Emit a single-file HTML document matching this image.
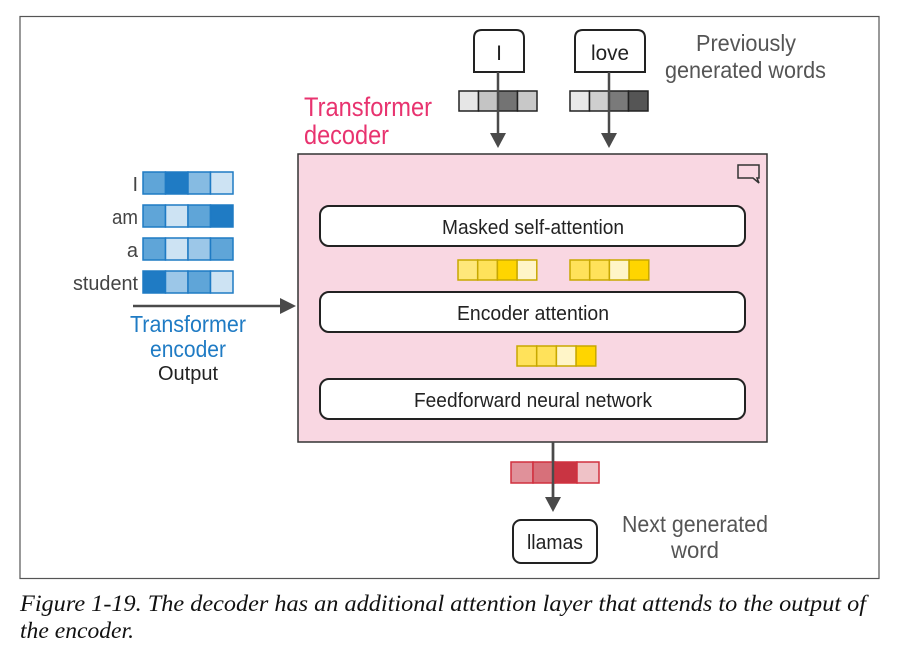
<!DOCTYPE html>
<html><head><meta charset="utf-8"><style>
html,body{margin:0;padding:0;background:#fff;}
svg{display:block;}
text{font-family:"Liberation Sans",sans-serif;}
.c{font-family:"Liberation Serif",serif;font-style:italic;font-size:23px;fill:#111;}
</style></head><body>
<svg width="904" height="662" viewBox="0 0 904 662" xmlns="http://www.w3.org/2000/svg">
<rect x="20" y="16.5" width="859" height="562" fill="#fff" stroke="#555" stroke-width="1.2"/>
<rect x="298" y="154" width="469" height="288" fill="#f9d7e2" stroke="#333" stroke-width="1.5"/>
<path d="M738,165 h21 v13 h-2 l2,5 l-6,-5 h-15 z" fill="none" stroke="#333" stroke-width="1.5"/>
<g fill="#fff" stroke="#222" stroke-width="2">
<rect x="320" y="206" width="425" height="40" rx="9"/>
<rect x="320" y="292" width="425" height="40" rx="9"/>
<rect x="320" y="379" width="425" height="40" rx="9"/>
</g>
<g font-size="20" fill="#222" text-anchor="middle">
<text x="533" y="234" textLength="182" lengthAdjust="spacingAndGlyphs">Masked self-attention</text>
<text x="533" y="320" textLength="152" lengthAdjust="spacingAndGlyphs">Encoder attention</text>
<text x="533" y="407" textLength="238" lengthAdjust="spacingAndGlyphs">Feedforward neural network</text>
</g>
<text x="304" y="116" font-size="27" fill="#e8336f" textLength="128" lengthAdjust="spacingAndGlyphs">Transformer</text>
<text x="304" y="144" font-size="27" fill="#e8336f" textLength="85" lengthAdjust="spacingAndGlyphs">decoder</text>
<path d="M474,72 V38 q0,-8 8,-8 h34 q8,0 8,8 V72 z" fill="#fff" stroke="#222" stroke-width="2"/>
<path d="M575,72 V38 q0,-8 8,-8 h54 q8,0 8,8 V72 z" fill="#fff" stroke="#222" stroke-width="2"/>
<text x="499" y="60" font-size="21" fill="#222" text-anchor="middle">I</text>
<text x="610" y="60" font-size="21" fill="#222" text-anchor="middle" textLength="38" lengthAdjust="spacingAndGlyphs">love</text>
<text x="696" y="51" font-size="23" fill="#555" textLength="100" lengthAdjust="spacingAndGlyphs">Previously</text>
<text x="665" y="78" font-size="23" fill="#555" textLength="161" lengthAdjust="spacingAndGlyphs">generated words</text>
<g stroke="#222" stroke-width="1.5">
<rect x="459" y="91" width="19.5" height="20" fill="#e6e6e6"/><rect x="478.5" y="91" width="19.5" height="20" fill="#c4c4c4"/><rect x="498" y="91" width="19.5" height="20" fill="#737373"/><rect x="517.5" y="91" width="19.5" height="20" fill="#c8c8c8"/>
<rect x="570" y="91" width="19.5" height="20" fill="#e9e9e9"/><rect x="589.5" y="91" width="19.5" height="20" fill="#cfcfcf"/><rect x="609" y="91" width="19.5" height="20" fill="#7a7a7a"/><rect x="628.5" y="91" width="19.5" height="20" fill="#555"/>
</g>
<g stroke="#4a4a4a" stroke-width="2.5">
<line x1="498" y1="72" x2="498" y2="136"/>
<line x1="609" y1="72" x2="609" y2="136"/>
<line x1="553" y1="442" x2="553" y2="500"/>
<line x1="133" y1="306" x2="282" y2="306"/>
</g>
<g fill="#4a4a4a">
<path d="M490,133 h16 l-8,15 z"/>
<path d="M601,133 h16 l-8,15 z"/>
<path d="M545,497 h16 l-8,15 z"/>
<path d="M280,298 v16 l16,-8 z"/>
</g>
<g stroke="#1f7bc4" stroke-width="1.5">
<rect x="143" y="172" width="22.5" height="22" fill="#5fa5d8"/><rect x="165.5" y="172" width="22.5" height="22" fill="#1f7bc4"/><rect x="188" y="172" width="22.5" height="22" fill="#86bbe2"/><rect x="210.5" y="172" width="22.5" height="22" fill="#cde3f3"/>
<rect x="143" y="205" width="22.5" height="22" fill="#5fa5d8"/><rect x="165.5" y="205" width="22.5" height="22" fill="#cde3f3"/><rect x="188" y="205" width="22.5" height="22" fill="#5fa5d8"/><rect x="210.5" y="205" width="22.5" height="22" fill="#1f7bc4"/>
<rect x="143" y="238" width="22.5" height="22" fill="#5fa5d8"/><rect x="165.5" y="238" width="22.5" height="22" fill="#cde3f3"/><rect x="188" y="238" width="22.5" height="22" fill="#9cc7e8"/><rect x="210.5" y="238" width="22.5" height="22" fill="#5fa5d8"/>
<rect x="143" y="271" width="22.5" height="22" fill="#1f7bc4"/><rect x="165.5" y="271" width="22.5" height="22" fill="#9cc7e8"/><rect x="188" y="271" width="22.5" height="22" fill="#5fa5d8"/><rect x="210.5" y="271" width="22.5" height="22" fill="#cde3f3"/>
</g>
<g font-size="20" fill="#444" text-anchor="end">
<text x="138" y="191">I</text>
<text x="138" y="224" textLength="26" lengthAdjust="spacingAndGlyphs">am</text>
<text x="138" y="257">a</text>
<text x="138" y="290" textLength="65" lengthAdjust="spacingAndGlyphs">student</text>
</g>
<text x="188" y="332" font-size="23" fill="#1f7bc4" text-anchor="middle" textLength="116" lengthAdjust="spacingAndGlyphs">Transformer</text>
<text x="188" y="357" font-size="23" fill="#1f7bc4" text-anchor="middle" textLength="76" lengthAdjust="spacingAndGlyphs">encoder</text>
<text x="188" y="380" font-size="20" fill="#222" text-anchor="middle" textLength="60" lengthAdjust="spacingAndGlyphs">Output</text>
<g stroke="#c8a800" stroke-width="1.5">
<rect x="458" y="260" width="19.7" height="20" fill="#ffe87a"/><rect x="477.7" y="260" width="19.7" height="20" fill="#ffe25a"/><rect x="497.4" y="260" width="19.7" height="20" fill="#ffd500"/><rect x="517.1" y="260" width="19.7" height="20" fill="#fff5c8"/>
<rect x="570" y="260" width="19.7" height="20" fill="#ffe25a"/><rect x="589.7" y="260" width="19.7" height="20" fill="#ffe25a"/><rect x="609.4" y="260" width="19.7" height="20" fill="#fff5c8"/><rect x="629.1" y="260" width="19.7" height="20" fill="#ffd500"/>
<rect x="517" y="346" width="19.7" height="20" fill="#ffe25a"/><rect x="536.7" y="346" width="19.7" height="20" fill="#ffe25a"/><rect x="556.4" y="346" width="19.7" height="20" fill="#fff5c8"/><rect x="576.1" y="346" width="19.7" height="20" fill="#ffd500"/>
</g>
<g stroke="#d1303e" stroke-width="1.5">
<rect x="511" y="462" width="22" height="21" fill="#e0919a"/><rect x="533" y="462" width="22" height="21" fill="#d7707a"/><rect x="555" y="462" width="22" height="21" fill="#c93442"/><rect x="577" y="462" width="22" height="21" fill="#efc2c7"/>
</g>
<line x1="553" y1="442" x2="553" y2="500" stroke="#4a4a4a" stroke-width="2.5"/>
<rect x="513" y="520" width="84" height="43" rx="8" fill="#fff" stroke="#222" stroke-width="2"/>
<text x="555" y="549" font-size="20" fill="#222" text-anchor="middle" textLength="56" lengthAdjust="spacingAndGlyphs">llamas</text>
<text x="622" y="532" font-size="23" fill="#555" textLength="146" lengthAdjust="spacingAndGlyphs">Next generated</text>
<text x="695" y="558" font-size="23" fill="#555" text-anchor="middle" textLength="48" lengthAdjust="spacingAndGlyphs">word</text>
<text class="c" x="20" y="611" textLength="846" lengthAdjust="spacingAndGlyphs">Figure 1-19. The decoder has an additional attention layer that attends to the output of</text>
<text class="c" x="20" y="638" textLength="114" lengthAdjust="spacingAndGlyphs">the encoder.</text>
</svg>
</body></html>
